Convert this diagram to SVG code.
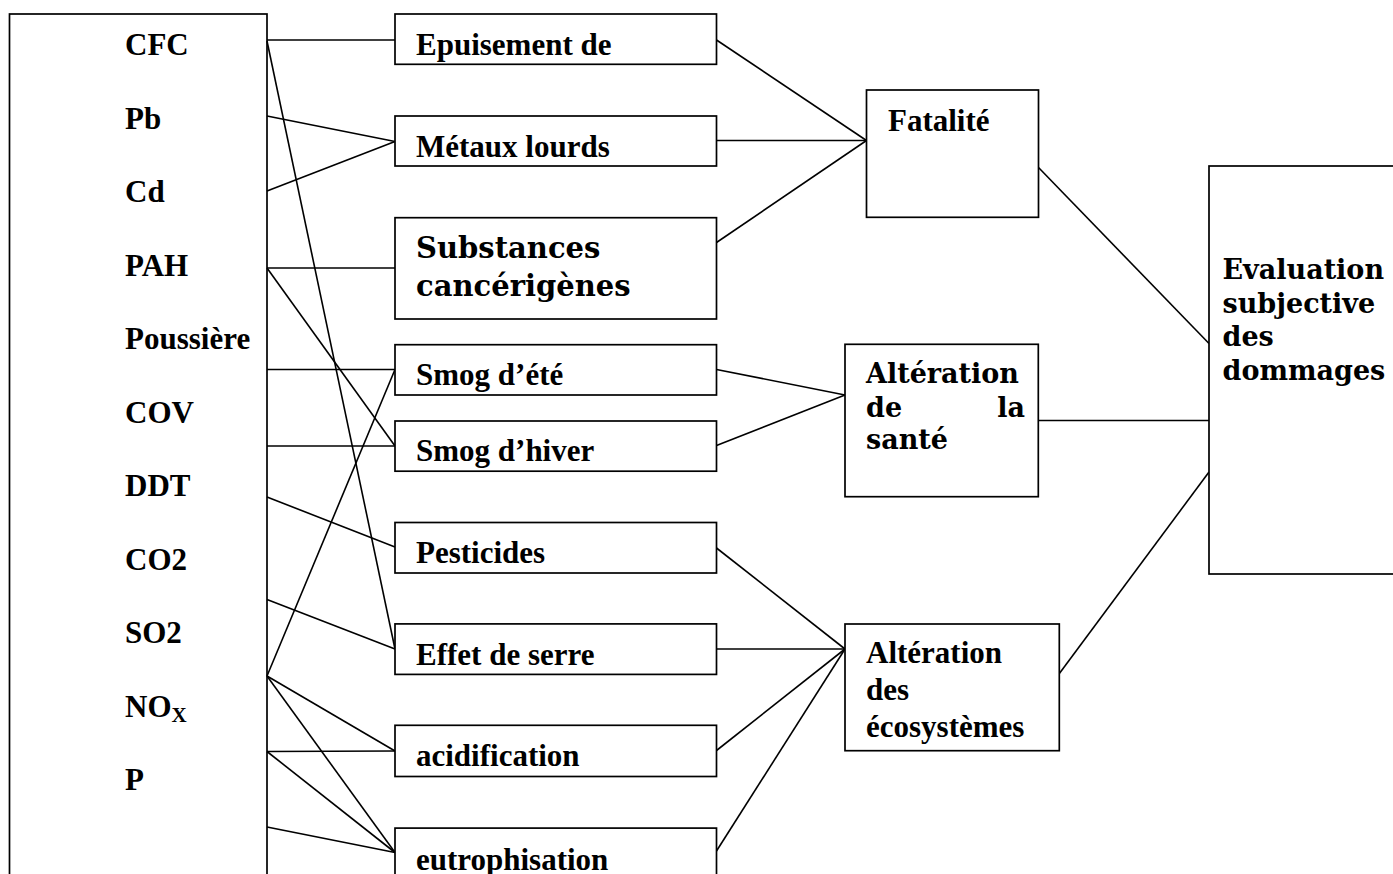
<svg xmlns="http://www.w3.org/2000/svg" width="1393" height="874" viewBox="0 0 1393 874">
  <style>
    .box { fill: #fff; stroke: #000; stroke-width: 1.7; }
    .edge { stroke: #000; stroke-width: 1.6; fill: none; }
    .tr { font-family: "Liberation Serif", "Times New Roman", serif; font-weight: bold; font-size: 31px; fill: #000; }
    .bk { font-family: "DejaVu Serif", serif; font-weight: bold; font-size: 27px; fill: #000; }
    .bk29 { font-family: "DejaVu Serif", serif; font-weight: bold; font-size: 29px; fill: #000; }
  </style>
  <rect width="1393" height="874" fill="#fff"/>

  <!-- emission sources -->
  <g id="sources">
    <rect class="box" x="9.5" y="14" width="257.5" height="880"/>
    <text class="tr" x="125" y="55">CFC</text>
    <text class="tr" x="125" y="128.5">Pb</text>
    <text class="tr" x="125" y="202">Cd</text>
    <text class="tr" x="125" y="275.5">PAH</text>
    <text class="tr" x="125" y="349">Poussière</text>
    <text class="tr" x="125" y="422.5">COV</text>
    <text class="tr" x="125" y="496">DDT</text>
    <text class="tr" x="125" y="569.5">CO2</text>
    <text class="tr" x="125" y="643">SO2</text>
    <text class="tr" x="125" y="716.5">NO<tspan font-size="21" dy="5">X</tspan></text>
    <text class="tr" x="125" y="790">P</text>
  </g>

  <!-- connectors -->
  <g id="connectors">
    <line class="edge" x1="267" y1="40" x2="395" y2="40"/>
    <line class="edge" x1="267" y1="41" x2="395" y2="649"/>
    <line class="edge" x1="267" y1="116" x2="395" y2="141.5"/>
    <line class="edge" x1="267" y1="191" x2="395" y2="141.5"/>
    <line class="edge" x1="267" y1="268" x2="395" y2="268"/>
    <line class="edge" x1="267" y1="268" x2="395" y2="446"/>
    <line class="edge" x1="267" y1="369.5" x2="395" y2="369.5"/>
    <line class="edge" x1="267" y1="446" x2="395" y2="446"/>
    <line class="edge" x1="267" y1="497" x2="395" y2="547"/>
    <line class="edge" x1="267" y1="599.5" x2="395" y2="649"/>
    <line class="edge" x1="267" y1="676" x2="395" y2="369.5"/>
    <line class="edge" x1="267" y1="676" x2="395" y2="751"/>
    <line class="edge" x1="267" y1="676" x2="395" y2="852.5"/>
    <line class="edge" x1="267" y1="751.5" x2="395" y2="751"/>
    <line class="edge" x1="267" y1="751.5" x2="395" y2="852.5"/>
    <line class="edge" x1="267" y1="827" x2="395" y2="852.5"/>

    <line class="edge" x1="716.5" y1="40" x2="866.5" y2="140.5"/>
    <line class="edge" x1="716.5" y1="140.5" x2="866.5" y2="140.5"/>
    <line class="edge" x1="716.5" y1="242.5" x2="866.5" y2="140.5"/>
    <line class="edge" x1="716.5" y1="369.5" x2="845" y2="395"/>
    <line class="edge" x1="716.5" y1="445.5" x2="845" y2="395"/>
    <line class="edge" x1="716.5" y1="548" x2="845" y2="649"/>
    <line class="edge" x1="716.5" y1="649" x2="845" y2="649"/>
    <line class="edge" x1="716.5" y1="750.5" x2="845" y2="649"/>
    <line class="edge" x1="716.5" y1="851" x2="845" y2="649"/>

    <line class="edge" x1="1038.5" y1="167.5" x2="1209" y2="343.5"/>
    <line class="edge" x1="1038.5" y1="420.5" x2="1209" y2="420.5"/>
    <line class="edge" x1="1059" y1="674" x2="1209" y2="472"/>
  </g>

  <!-- impact categories -->
  <g id="epuisement">
    <rect class="box" x="395" y="14" width="321.5" height="50.3"/>
    <text class="tr" x="416" y="55">Epuisement de</text>
  </g>
  <g id="metaux">
    <rect class="box" x="395" y="116" width="321.5" height="50"/>
    <text class="tr" x="416" y="156.7">Métaux lourds</text>
  </g>
  <g id="substances">
    <rect class="box" x="395" y="217.7" width="321.5" height="101.3"/>
    <text class="bk29" x="416" y="258">Substances</text>
    <text class="bk29" x="416" y="295.7">cancérigènes</text>
  </g>
  <g id="smog-ete">
    <rect class="box" x="395" y="344.7" width="321.5" height="50.3"/>
    <text class="tr" x="416" y="385.4">Smog d’été</text>
  </g>
  <g id="smog-hiver">
    <rect class="box" x="395" y="421" width="321.5" height="50.2"/>
    <text class="tr" x="416" y="461.3">Smog d’hiver</text>
  </g>
  <g id="pesticides">
    <rect class="box" x="395" y="522.5" width="321.5" height="50.5"/>
    <text class="tr" x="416" y="563.1">Pesticides</text>
  </g>
  <g id="effet-serre">
    <rect class="box" x="395" y="623.9" width="321.5" height="50.5"/>
    <text class="tr" x="416" y="664.5">Effet de serre</text>
  </g>
  <g id="acidification">
    <rect class="box" x="395" y="725.3" width="321.5" height="51.2"/>
    <text class="tr" x="416" y="765.9">acidification</text>
  </g>
  <g id="eutrophisation">
    <rect class="box" x="395" y="828.1" width="321.5" height="70"/>
    <text class="tr" x="416" y="869.5">eutrophisation</text>
  </g>

  <!-- damage categories -->
  <g id="fatalite">
    <rect class="box" x="866.5" y="90" width="172" height="127.3"/>
    <text class="tr" x="888" y="131">Fatalité</text>
  </g>
  <g id="sante">
    <rect class="box" x="845" y="344.3" width="193.3" height="152.4"/>
    <text class="bk" x="866" y="382.7">Altération</text>
    <text class="bk" x="866" y="416.5">de</text>
    <text class="bk" x="1025" y="416.5" text-anchor="end">la</text>
    <text class="bk" x="866" y="449">santé</text>
  </g>
  <g id="ecosystemes">
    <rect class="box" x="845" y="624" width="214.3" height="126.7"/>
    <text class="tr" x="866" y="663.3">Altération</text>
    <text class="tr" x="866" y="700">des</text>
    <text class="tr" x="866" y="737.3">écosystèmes</text>
  </g>
  <g id="evaluation">
    <rect class="box" x="1209" y="166" width="200" height="408"/>
    <text class="bk" x="1222.5" y="279">Evaluation</text>
    <text class="bk" x="1222.5" y="312.5">subjective</text>
    <text class="bk" x="1222.5" y="346">des</text>
    <text class="bk" x="1222.5" y="379.5">dommages</text>
  </g>
</svg>
